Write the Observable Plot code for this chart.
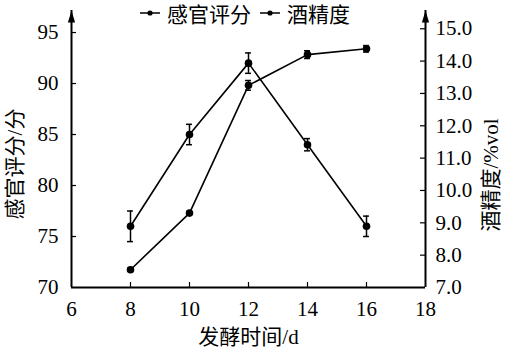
<!DOCTYPE html>
<html>
<head>
<meta charset="utf-8">
<script src="https://cdn.jsdelivr.net/npm/d3@7"></script>
<script src="https://cdn.jsdelivr.net/npm/@observablehq/plot@0.6"></script>
<style>
  html, body { margin: 0; padding: 0; background: #fff; }
  #wrap { position: relative; width: 513px; height: 358px; font-family: "Liberation Serif", "Noto Sans CJK SC", serif; }
  #legend { position: absolute; top: 0px; left: 140px; display: flex; align-items: center; height: 26px; font-size: 21px; color: #000; white-space: nowrap; }
  #legend .sym { width: 20px; height: 10px; margin-right: 7px; }
  #legend .item { display: flex; align-items: center; margin-right: 9px; }
</style>
</head>
<body>
<div id="wrap"><div id="legend"></div></div>
<script>
// ---- data ----
const days = [8, 10, 12, 14, 16];
const sensory = [76, 85, 92, 84, 76];
const sensoryErr = [1.5, 1.0, 1.0, 0.6, 1.0];
const alcohol = [7.55, 9.3, 13.25, 14.2, 14.38];
const alcoholErr = [0.05, 0.05, 0.15, 0.12, 0.1];
const xTicks = [6, 8, 10, 12, 14, 16, 18];
const leftTicks = [70, 75, 80, 85, 90, 95];
const rightTicks = [7, 8, 9, 10, 11, 12, 13, 14, 15];
const seriesNames = ["感官评分", "酒精度"];
const xLabel = "发酵时间/d";
const yLabelLeft = "感官评分/分";
const yLabelRight = "酒精度/%vol";

// ---- scales ----
const xDomain = [6, 18];
const yDomain = [70, 97.16];
// right axis (alcohol) expressed in left-axis units
const toLeft = d3.scaleLinear([7, 15], [70, 95.37]);

const W = 513, H = 358, mL = 71, mR = 88, mT = 10, mB = 71;
const frameW = W - mL - mR, frameH = H - mT - mB;
const font = '"Liberation Serif", "Noto Sans CJK SC", serif';

const sRows = days.map((d, i) => ({day: d, v: sensory[i], lo: sensory[i] - sensoryErr[i], hi: sensory[i] + sensoryErr[i]}));
const aRows = days.map((d, i) => ({day: d, v: toLeft(alcohol[i]), lo: toLeft(alcohol[i] - alcoholErr[i]), hi: toLeft(alcohol[i] + alcoholErr[i])}));

const arrowHead = {
  draw(ctx, size) {
    ctx.moveTo(0, 0);
    ctx.lineTo(3.6, 12);
    ctx.lineTo(-3.6, 12);
    ctx.closePath();
  }
};

function seriesMarks(rows) {
  return [
    Plot.ruleX(rows, {x: "day", y1: "lo", y2: "hi", stroke: "black", strokeWidth: 1.5}),
    Plot.ruleY(rows, {y: "hi", x1: d => d.day - 0.1, x2: d => d.day + 0.1, stroke: "black", strokeWidth: 1.5}),
    Plot.ruleY(rows, {y: "lo", x1: d => d.day - 0.1, x2: d => d.day + 0.1, stroke: "black", strokeWidth: 1.5}),
    Plot.line(rows, {x: "day", y: "v", stroke: "black", strokeWidth: 1.6}),
    Plot.dot(rows, {x: "day", y: "v", r: 3.8, fill: "black"})
  ];
}

const chart = Plot.plot({
  width: W, height: H,
  marginLeft: mL, marginRight: mR, marginTop: mT, marginBottom: mB,
  x: {domain: xDomain},
  y: {domain: yDomain},
  style: {fontFamily: font, fontSize: "21px", color: "black", background: "transparent", overflow: "visible"},
  marks: [
    // axis lines
    Plot.ruleX(xDomain, {stroke: "black", strokeWidth: 2}),
    Plot.ruleY([yDomain[0]], {stroke: "black", strokeWidth: 2}),
    Plot.dot(xDomain, {x: d => d, frameAnchor: "top", symbol: arrowHead, r: 4, fill: "black", stroke: null}),
    // inward ticks
    Plot.tickY(leftTicks.slice(1), {y: d => d, insetRight: frameW - 5, stroke: "black", strokeWidth: 1.2}),
    Plot.tickY(rightTicks.slice(1).map(toLeft), {y: d => d, insetLeft: frameW - 5, stroke: "black", strokeWidth: 1.2}),
    Plot.tickX(xTicks.slice(1, -1), {x: d => d, insetTop: frameH - 5, stroke: "black", strokeWidth: 1.2}),
    // tick labels
    Plot.axisY(leftTicks, {anchor: "left", tickSize: 0, tickPadding: 13, label: null, fontSize: 21}),
    Plot.axisY(rightTicks.map(toLeft), {anchor: "right", tickSize: 0, tickPadding: 10, label: null, fontSize: 21,
      tickFormat: d => toLeft.invert(d).toFixed(1)}),
    Plot.axisX(xTicks, {anchor: "bottom", tickSize: 0, tickPadding: 14, label: null, fontSize: 21}),
    // axis titles
    Plot.text([yLabelLeft], {text: d => d, frameAnchor: "left", textAnchor: "middle", dx: -56, dy: 15, rotate: -90, fontSize: 21}),
    Plot.text([yLabelRight], {text: d => d, frameAnchor: "right", textAnchor: "middle", dx: 66, dy: 26, rotate: -90, fontSize: 21}),
    Plot.text([xLabel], {text: d => d, frameAnchor: "bottom", dy: 56, fontSize: 21}),
    // data
    ...seriesMarks(sRows),
    ...seriesMarks(aRows)
  ]
});
document.getElementById("wrap").appendChild(chart);

// legend
const legend = document.getElementById("legend");
seriesNames.forEach(name => {
  const item = document.createElement("div");
  item.className = "item";
  item.innerHTML = `<svg class="sym" viewBox="0 0 20 10"><line x1="0" y1="5" x2="20" y2="5" stroke="black" stroke-width="1.5"/><circle cx="10" cy="5" r="2.6" fill="black"/></svg><span>${name}</span>`;
  legend.appendChild(item);
});
</script>
</body>
</html>
